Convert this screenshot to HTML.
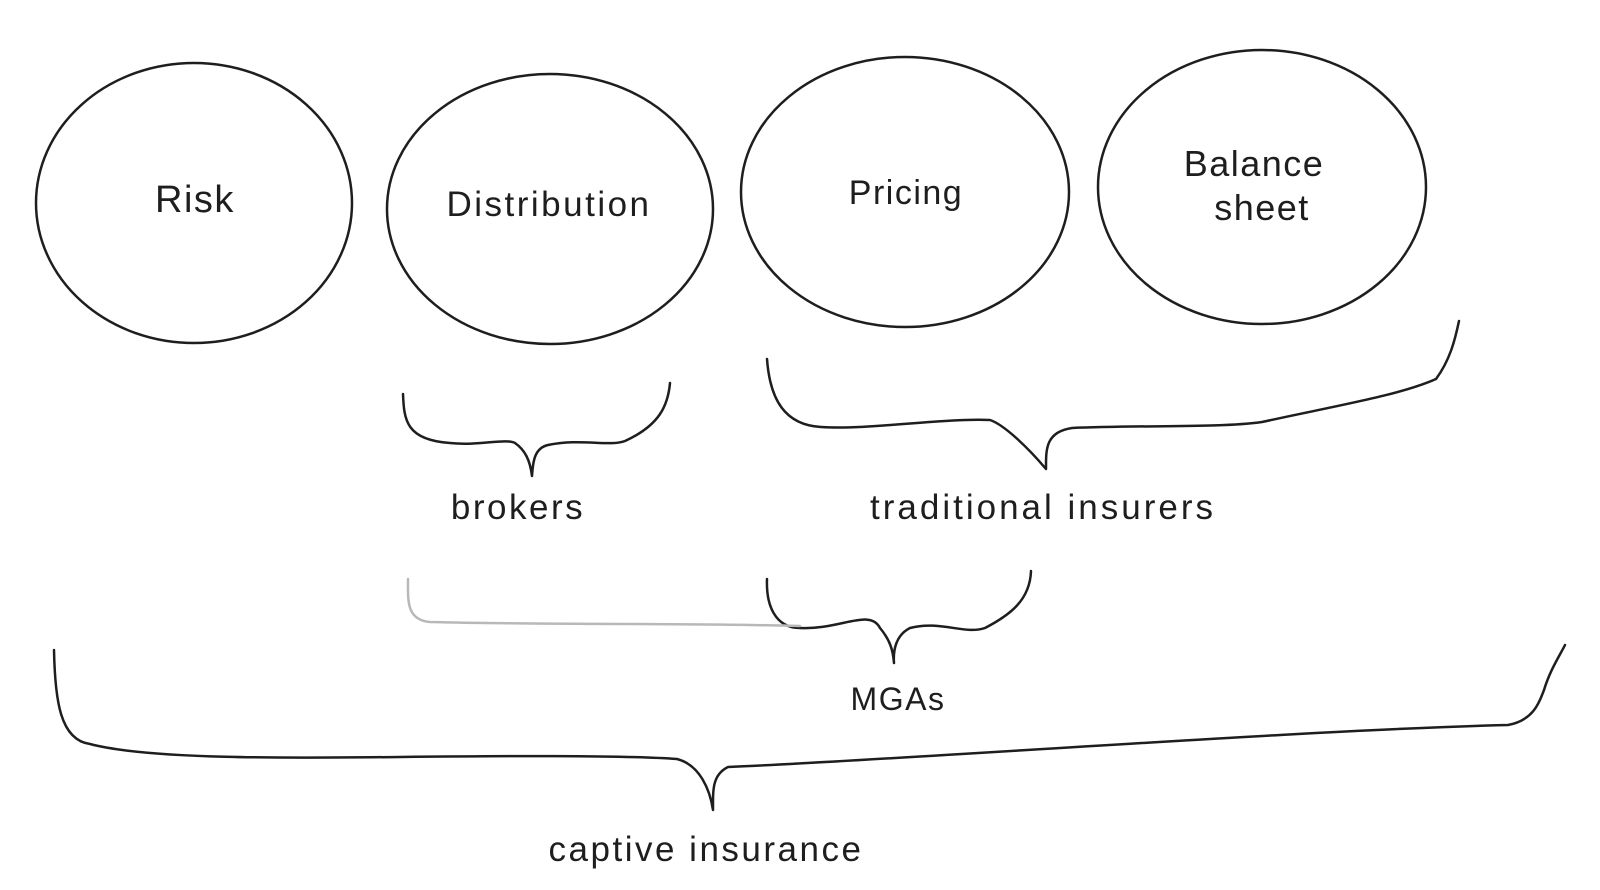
<!DOCTYPE html>
<html><head><meta charset="utf-8"><style>
html,body{margin:0;padding:0;background:#fff;}
svg{display:block;}
text{font-family:"Liberation Sans Narrow","Liberation Sans",sans-serif;fill:#1e1e1e;text-anchor:middle;letter-spacing:1.5px;}
</style></head><body>
<svg width="1600" height="890" viewBox="0 0 1600 890" xmlns="http://www.w3.org/2000/svg">
<g fill="none" stroke="#1e1e1e" stroke-width="2.5" stroke-linecap="round" stroke-linejoin="round">
<ellipse cx="194" cy="203" rx="158" ry="140"/>
<ellipse cx="550" cy="209" rx="163" ry="135"/>
<ellipse cx="905" cy="192" rx="164" ry="135"/>
<ellipse cx="1262" cy="187" rx="164" ry="137"/>
<path d="M403 394 C404 420 406 440 450 443 C480 446 505 438 515 443 C525 450 530 460 532 476 C533 460 535 448 548 445 C580 438 610 447 625 441 C660 425 668 405 670 383"/>
<path d="M767 359 C770 400 785 425 821 427 C870 430 940 418 990 420 C1005 425 1030 450 1046 469 C1046 450 1045 432 1072 428 C1140 425 1220 428 1262 422 C1340 405 1400 395 1436 379 C1450 360 1455 340 1459 321"/>
<path d="M767 579 C766 605 775 628 800 628 C840 630 870 608 880 628 C890 640 893 650 894 663 C893 650 896 635 910 628 C940 620 965 635 985 628 C1010 615 1030 600 1031 571"/>
<path d="M54 650 C55 700 60 740 90 744 C150 760 300 758 400 757 C500 756 620 755 677 759 C700 765 710 790 713 810 C713 790 712 775 728 767 C900 760 1300 730 1508 725 C1535 720 1540 700 1544 690 C1550 670 1560 655 1565 645"/>
</g>
<path d="M408 579 C408 600 406 620 430 622 C550 625 700 623 800 626" fill="none" stroke="#b8b8b8" stroke-width="2.5" stroke-linecap="round"/>
<text x="195" y="212" font-size="38">Risk</text>
<text x="549" y="216" font-size="35" style="letter-spacing:2.5px">Distribution</text>
<text x="906" y="204" font-size="34">Pricing</text>
<text x="1254" y="176" font-size="36">Balance</text>
<text x="1262" y="220" font-size="36">sheet</text>
<text x="518" y="519" font-size="35" style="letter-spacing:2.5px">brokers</text>
<text x="1043" y="519" font-size="35" style="letter-spacing:3px">traditional insurers</text>
<text x="898" y="710" font-size="32">MGAs</text>
<text x="706" y="861" font-size="35" style="letter-spacing:2.5px">captive insurance</text>
</svg>
</body></html>
